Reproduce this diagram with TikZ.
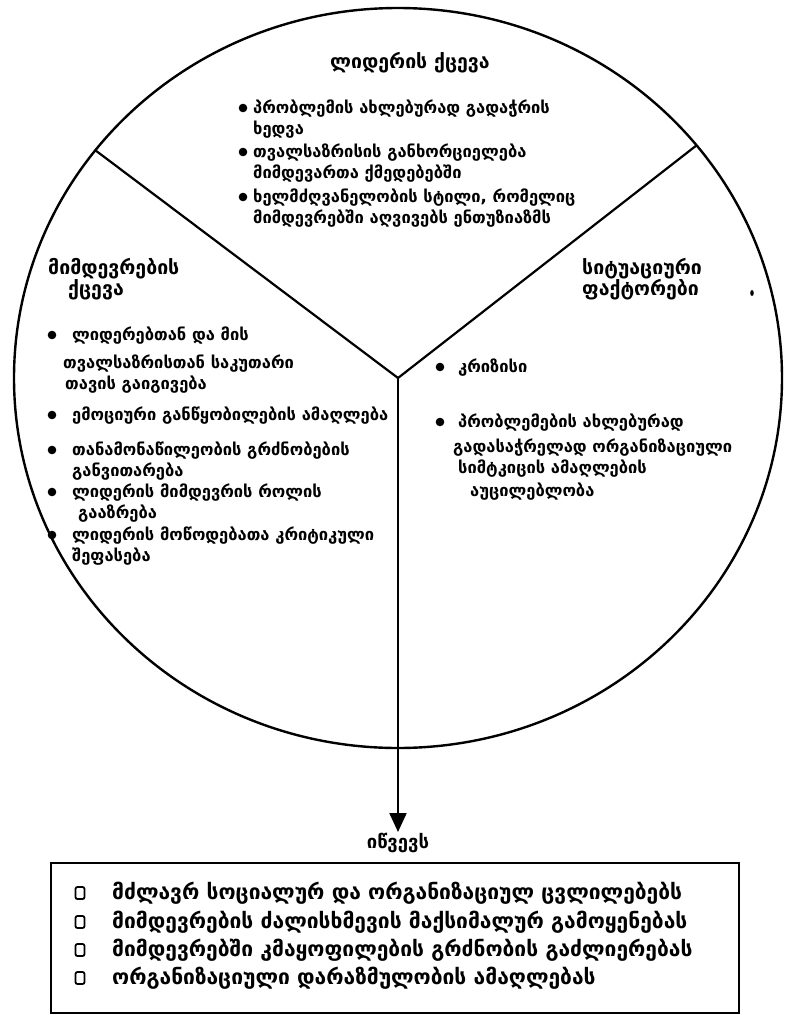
\documentclass[tikz,border=0pt]{standalone}
\usepackage{fontspec}
\usepackage{tikz}
\usetikzlibrary{arrows.meta,positioning}
\newfontfamily\geo{DejaVu Sans Bold}
\newcommand{\txtfont}{\geo\fontsize{16.5}{21}\selectfont}
\newcommand{\ttlfont}{\geo\fontsize{19.5}{21}\selectfont}
\newcommand{\boxfont}{\geo\fontsize{21}{28}\selectfont}
\tikzset{
  ring/.style={line width=2.4pt},
  spoke/.style={line width=2.2pt},
  arr/.style={-{Triangle[length=19pt,width=17pt]},line width=2.2pt},
  ttl/.style={font=\ttlfont,align=left,anchor=north west,inner sep=0pt},
  txt/.style={font=\txtfont,align=left,anchor=north west,inner sep=0pt},
  res/.style={font=\boxfont,anchor=base west,inner sep=0pt},
  chk/.style={draw,line width=1.8pt,rounded corners=2pt,minimum width=9pt,minimum height=12pt,inner sep=0pt}
}
\begin{document}
\begin{tikzpicture}[x=1pt,y=-1pt]
\useasboundingbox (0,0) rectangle (785,1015);
% circle and its three parts
\coordinate (hub) at (398,378);
\coordinate (tl) at (95,150);
\coordinate (tr) at (697,145);
\draw[ring] (hub) ellipse [x radius=384, y radius=370];
\draw[spoke] (tl) -- (hub) -- (tr);

% leader
\node[ttl,anchor=center] (ldttl) at (410,63) {ლიდერის ქცევა};
\fill (243,108) circle (4.3) (243,152) circle (4.3) (243,197) circle (4.3);
\node[txt] (ld1) at (253,100) {პრობლემის ახლებურად გადაჭრის\\ხედვა};
\node[txt] (ld2) at (253,144) {თვალსაზრისის განხორციელება\\მიმდევართა ქმედებებში};
\node[txt] (ld3) at (253,189) {ხელმძღვანელობის სტილი, რომელიც\\მიმდევრებში აღვივებს ენთუზიაზმს};

% followers
\node[ttl] (flttl) at (48,258) {მიმდევრების\\\hspace*{20pt}ქცევა};
\fill (52,335) circle (4.3) (52,415) circle (4.3) (52,450) circle (4.3)
      (52,492) circle (4.3) (52,535) circle (4.3);
\node[txt] (fl1) at (63,327) {\hspace*{9pt}ლიდერებთან და მის\\[7pt]თვალსაზრისთან საკუთარი\\\hspace*{2pt}თავის გაიგივება};
\node[txt] (fl2) at (72,407) {ემოციური განწყობილების ამაღლება};
\node[txt] (fl3) at (72,442) {თანამონაწილეობის გრძნობების\\განვითარება};
\node[txt] (fl4) at (72,484) {ლიდერის მიმდევრის როლის\\\hspace*{6pt}გააზრება};
\node[txt] (fl5) at (72,527) {ლიდერის მოწოდებათა კრიტიკული\\შეფასება};

% situation
\node[ttl] (stttl) at (582,258) {სიტუაციური\\ფაქტორები};
\fill (752,293) ellipse (1.8 and 3);
\fill (440,367) circle (4.3) (440,422) circle (4.3);
\node[txt] (st1) at (458,359) {კრიზისი};
\node[txt] (st2) at (458,414) {პრობლემების ახლებურად\\[4pt]\hspace*{-5pt}გადასაჭრელად ორგანიზაციული\\სიმტკიცის ამაღლების\\[2pt]\hspace*{12pt}აუცილებლობა};

% result
\node[font=\geo\fontsize{18.5}{21}\selectfont,inner sep=1pt,anchor=north] (causes) at (398,832) {იწვევს};
\draw[arr] (hub) -- (causes);
\node[draw,line width=2.2pt,anchor=north west,minimum width=688pt,minimum height=150pt] (resbox) at (50,862) {};
\foreach \y/\t in {899/მძლავრ სოციალურ და ორგანიზაციულ ცვლილებებს,
                   928/მიმდევრების ძალისხმევის მაქსიმალურ გამოყენებას,
                   956/მიმდევრებში კმაყოფილების გრძნობის გაძლიერებას,
                   984/ორგანიზაციული დარაზმულობის ამაღლებას}{
  \node[chk] (c\y) at (80,\y-6) {};
  \node[res] (r\y) at (112,\y) {\t};
}
\end{tikzpicture}
\end{document}
